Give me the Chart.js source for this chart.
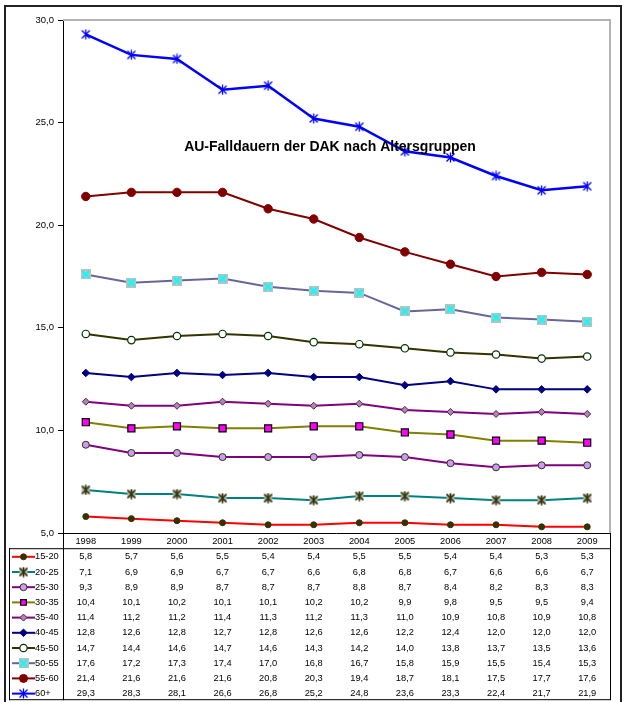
<!DOCTYPE html>
<html>
<head>
<meta charset="utf-8">
<script src="https://cdn.jsdelivr.net/npm/chart.js@4/dist/chart.umd.min.js"></script>
<style>
html, body { margin: 0; padding: 0; background: #fff; }
#wrap { width: 634px; height: 702px; }
</style>
</head>
<body>
<div id="wrap"><canvas id="chart"></canvas></div>
<script>
var years = ['1998', '1999', '2000', '2001', '2002', '2003', '2004', '2005', '2006', '2007', '2008', '2009'];
var age1520 = [5.8, 5.7, 5.6, 5.5, 5.4, 5.4, 5.5, 5.5, 5.4, 5.4, 5.3, 5.3];
var age2025 = [7.1, 6.9, 6.9, 6.7, 6.7, 6.6, 6.8, 6.8, 6.7, 6.6, 6.6, 6.7];
var age2530 = [9.3, 8.9, 8.9, 8.7, 8.7, 8.7, 8.8, 8.7, 8.4, 8.2, 8.3, 8.3];
var age3035 = [10.4, 10.1, 10.2, 10.1, 10.1, 10.2, 10.2, 9.9, 9.8, 9.5, 9.5, 9.4];
var age3540 = [11.4, 11.2, 11.2, 11.4, 11.3, 11.2, 11.3, 11.0, 10.9, 10.8, 10.9, 10.8];
var age4045 = [12.8, 12.6, 12.8, 12.7, 12.8, 12.6, 12.6, 12.2, 12.4, 12.0, 12.0, 12.0];
var age4550 = [14.7, 14.4, 14.6, 14.7, 14.6, 14.3, 14.2, 14.0, 13.8, 13.7, 13.5, 13.6];
var age5055 = [17.6, 17.2, 17.3, 17.4, 17.0, 16.8, 16.7, 15.8, 15.9, 15.5, 15.4, 15.3];
var age5560 = [21.4, 21.6, 21.6, 21.6, 20.8, 20.3, 19.4, 18.7, 18.1, 17.5, 17.7, 17.6];
var age60 = [29.3, 28.3, 28.1, 26.6, 26.8, 25.2, 24.8, 23.6, 23.3, 22.4, 21.7, 21.9];
var yMin = 5, yMax = 30, yStep = 5;

var title = 'AU-Falldauern der DAK nach Altersgruppen';
var font = '"Liberation Sans", Arial, sans-serif';

function fmt(v) {
    return v.toFixed(1).replace('.', ',');
}

// little canvases for the Excel style markers
function marker(size, draw) {
    var c = document.createElement('canvas');
    c.width = size;
    c.height = size;
    draw(c.getContext('2d'), size);
    return c;
}

var starBlue = marker(11, function (g) {
    g.strokeStyle = '#0000FF';
    g.lineWidth = 1.3;
    g.beginPath();
    g.moveTo(1.5, 1.5); g.lineTo(9.5, 9.5);
    g.moveTo(9.5, 1.5); g.lineTo(1.5, 9.5);
    g.moveTo(5.5, 0.5); g.lineTo(5.5, 10.5);
    g.stroke();
});

var starGray = marker(11, function (g) {
    g.fillStyle = '#B0B0B0';
    g.fillRect(1.5, 1.5, 8, 8);
    g.strokeStyle = '#333300';
    g.lineWidth = 1.5;
    g.beginPath();
    g.moveTo(1.5, 1.5); g.lineTo(9.5, 9.5);
    g.moveTo(9.5, 1.5); g.lineTo(1.5, 9.5);
    g.moveTo(5.5, 0.5); g.lineTo(5.5, 10.5);
    g.stroke();
});

var crossBox = marker(10, function (g) {
    g.fillStyle = '#C0C0C0';
    g.fillRect(0, 0, 10, 10);
    g.strokeStyle = '#00FFFF';
    g.lineWidth = 2;
    g.beginPath();
    g.moveTo(1.5, 1.5); g.lineTo(8.5, 8.5);
    g.moveTo(8.5, 1.5); g.lineTo(1.5, 8.5);
    g.stroke();
});

function series(label, data, line, style, radius, fill, border, bw) {
    return {
        label: label,
        data: data,
        borderColor: line,
        borderWidth: 2,
        pointStyle: style,
        pointRadius: radius,
        pointBackgroundColor: fill,
        pointBorderColor: border,
        pointBorderWidth: bw,
        tension: 0
    };
}

var datasets = [
    series('15-20', age1520, '#FF0000', 'circle', 3, '#333300', '#333300', 1),
    series('20-25', age2025, '#008080', starGray, 5, '#B0B0B0', '#333300', 1),
    series('25-30', age2530, '#800080', 'circle', 3.5, '#CC99FF', '#333300', 1),
    series('30-35', age3035, '#808000', 'rect', 5, '#FF00FF', '#000000', 1.2),
    series('35-40', age3540, '#800080', 'rectRot', 3.5, '#969696', '#800080', 1),
    series('40-45', age4045, '#000080', 'rectRot', 3.8, '#000080', '#000080', 1),
    series('45-50', age4550, '#333300', 'circle', 3.7, '#FFFFFF', '#003300', 1.2),
    series('50-55', age5055, '#666699', crossBox, 5, '#C0C0C0', '#00FFFF', 1),
    series('55-60', age5560, '#800000', 'circle', 4.2, '#800000', '#800000', 1),
    series('60+', age60, '#0000FF', starBlue, 5.5, '#0000FF', '#0000FF', 1)
];
datasets[9].borderWidth = 2.5;

var frameAndTable = {
    id: 'frameAndTable',
    afterDraw: function (chart) {
        var ctx = chart.ctx;
        var area = chart.chartArea;
        var x = chart.scales.x;
        var sets = chart.data.datasets;
        var rowH = 15.2;
        var headBottom = area.bottom + rowH;
        var tableBottom = headBottom + rowH * sets.length;
        var tableLeft = 9;

        ctx.save();

        // top and right edge of the plot area
        ctx.strokeStyle = '#B4B4B4';
        ctx.lineWidth = 2;
        ctx.beginPath();
        ctx.moveTo(area.left, area.top);
        ctx.lineTo(area.right, area.top);
        ctx.lineTo(area.right, area.bottom);
        ctx.stroke();

        // table lines
        ctx.strokeStyle = '#000';
        ctx.lineWidth = 1;
        ctx.beginPath();
        ctx.moveTo(area.left, area.bottom + 0.5);
        ctx.lineTo(area.right, area.bottom + 0.5);
        ctx.moveTo(tableLeft, headBottom + 0.5);
        ctx.lineTo(area.right, headBottom + 0.5);
        ctx.moveTo(area.left + 0.5, area.bottom);
        ctx.lineTo(area.left + 0.5, tableBottom);
        ctx.moveTo(area.right + 0.5, area.bottom);
        ctx.lineTo(area.right + 0.5, tableBottom);
        ctx.moveTo(tableLeft + 0.5, headBottom);
        ctx.lineTo(tableLeft + 0.5, tableBottom);
        ctx.moveTo(tableLeft, tableBottom - 0.5);
        ctx.lineTo(area.right, tableBottom - 0.5);
        ctx.stroke();

        ctx.fillStyle = '#000';
        ctx.font = '9.3px ' + font;
        ctx.textAlign = 'center';
        ctx.textBaseline = 'middle';
        chart.data.labels.forEach(function (year, i) {
            ctx.fillText(year, x.getPixelForValue(i), area.bottom + rowH / 2 + 1);
        });

        sets.forEach(function (ds, r) {
            var cy = headBottom + rowH * r + rowH / 2 + 1;
            ds.data.forEach(function (v, i) {
                ctx.fillStyle = '#000';
                ctx.textAlign = 'center';
                ctx.fillText(fmt(v), x.getPixelForValue(i), cy);
            });

            // legend key: line sample, marker, label
            ctx.strokeStyle = ds.borderColor;
            ctx.lineWidth = 2;
            ctx.beginPath();
            ctx.moveTo(tableLeft + 3, cy);
            ctx.lineTo(tableLeft + 26, cy);
            ctx.stroke();
            ctx.fillStyle = ds.pointBackgroundColor;
            ctx.strokeStyle = ds.pointBorderColor;
            ctx.lineWidth = ds.pointBorderWidth;
            Chart.helpers.drawPoint(ctx, {
                pointStyle: ds.pointStyle,
                radius: Math.min(ds.pointRadius, 4),
                rotation: 0,
                borderWidth: ds.pointBorderWidth
            }, tableLeft + 14.5, cy);
            ctx.fillStyle = '#000';
            ctx.textAlign = 'left';
            ctx.fillText(ds.label, tableLeft + 26, cy);
        });

        // title sits inside the plot
        ctx.font = 'bold 14px ' + font;
        ctx.textAlign = 'center';
        ctx.fillStyle = '#000';
        ctx.fillText(title, 330, 147);

        // outer frame
        ctx.strokeStyle = '#222';
        ctx.lineWidth = 2;
        ctx.strokeRect(5, 6, 616, 700);
        ctx.restore();
    }
};

new Chart(document.getElementById('chart'), {
    type: 'line',
    data: { labels: years, datasets: datasets },
    options: {
        responsive: true,
        maintainAspectRatio: false,
        animation: false,
        devicePixelRatio: 1,
        layout: { padding: { left: 0, top: 20, right: 24, bottom: 169 } },
        plugins: {
            legend: { display: false },
            tooltip: { enabled: false }
        },
        scales: {
            x: {
                display: false,
                offset: true
            },
            y: {
                min: yMin,
                max: yMax,
                afterFit: function (s) { s.width = 63; },
                border: { color: '#000', width: 1 },
                grid: { drawOnChartArea: false, drawTicks: true, tickLength: 5, color: '#000' },
                ticks: {
                    stepSize: yStep,
                    padding: 4,
                    color: '#000',
                    font: { family: font, size: 9.5 },
                    callback: function (v) { return fmt(v); }
                }
            }
        }
    },
    plugins: [frameAndTable]
});
</script>
</body>
</html>
